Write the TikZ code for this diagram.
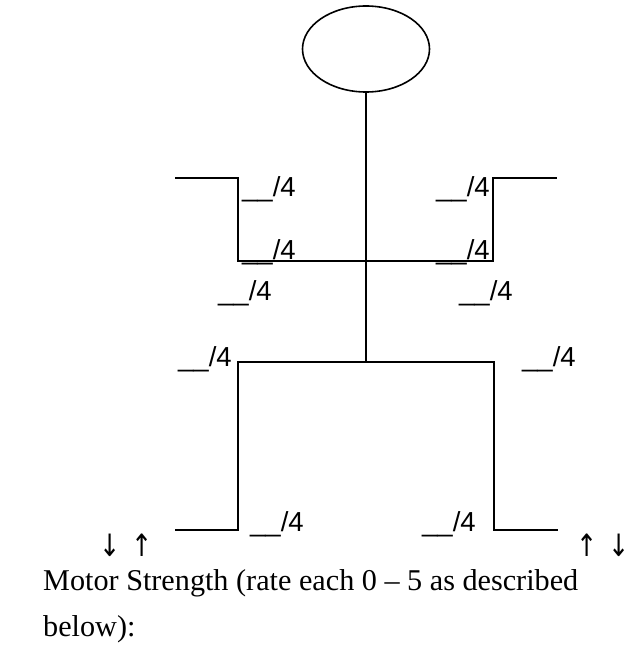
\documentclass[tikz,border=0pt]{standalone}
\usepackage{fontspec}
\setmainfont{Liberation Serif}
\newfontfamily\lblfont{Liberation Sans}
\newfontfamily\arrfont{DejaVu Sans}
\usetikzlibrary{shapes.geometric}
\tikzset{
  limb/.style={draw=black, line width=1.6pt},
  score/.style={font=\lblfont\fontsize{27.5}{32}\selectfont, inner sep=0pt, anchor=base west},
  arr/.style={font=\arrfont\fontsize{22}{26}\selectfont, inner sep=0pt, anchor=base west},
  caption/.style={font=\fontsize{30.2}{36}\selectfont, inner sep=0pt, anchor=base west}
}
\newcommand{\tallarr}[1]{\scalebox{1.15}[1.4]{#1}}
\begin{document}
\begin{tikzpicture}[x=1pt,y=-1pt]
\useasboundingbox (0,0) rectangle (629,655);
% head
\node[ellipse, draw=black, line width=1.6pt, minimum width=127pt, minimum height=86pt, inner sep=0pt] (head) at (366,49) {};
% joints
\coordinate (neckS) at (366,261);
\coordinate (hipC) at (366,362);
\coordinate (lsh) at (238,261);
\coordinate (rsh) at (493,261);
\coordinate (lel) at (238,178);
\coordinate (rel) at (493,178);
\coordinate (lha) at (175,178);
\coordinate (rha) at (557,178);
\coordinate (lhip) at (238,362);
\coordinate (rhip) at (494,362);
\coordinate (lkn) at (238,530);
\coordinate (rkn) at (494,530);
\coordinate (lft) at (175,530);
\coordinate (rft) at (558,530);
% body
\draw[limb] (head.south) -- (hipC);
\draw[limb] (lha) -- (lel) -- (lsh) -- (rsh) -- (rel) -- (rha);
\draw[limb] (lft) -- (lkn) -- (lhip) -- (rhip) -- (rkn) -- (rft);
% scores
\node[score] (s1) at (242,196) {\_\_/4};
\node[score] (s2) at (436,196) {\_\_/4};
\node[score] (s3) at (242,259) {\_\_/4};
\node[score] (s4) at (436,259) {\_\_/4};
\node[score] (s5) at (218,300) {\_\_/4};
\node[score] (s6) at (459,300) {\_\_/4};
\node[score] (s7) at (178,366) {\_\_/4};
\node[score] (s8) at (522,366) {\_\_/4};
\node[score] (s9) at (250,531) {\_\_/4};
\node[score] (s10) at (422,531) {\_\_/4};
% arrows
\node[arr] (a1) at (99,556) {\tallarr{↓}\hspace{11pt}\tallarr{↑}};
\node[arr] (a2) at (576,556) {\tallarr{↑}\hspace{11pt}\tallarr{↓}};
% caption
\node[caption] (c1) at (43,590) {Motor Strength (rate each 0 – 5 as described};
\node[caption] (c2) at (43,636) {below):};
\end{tikzpicture}
\end{document}
